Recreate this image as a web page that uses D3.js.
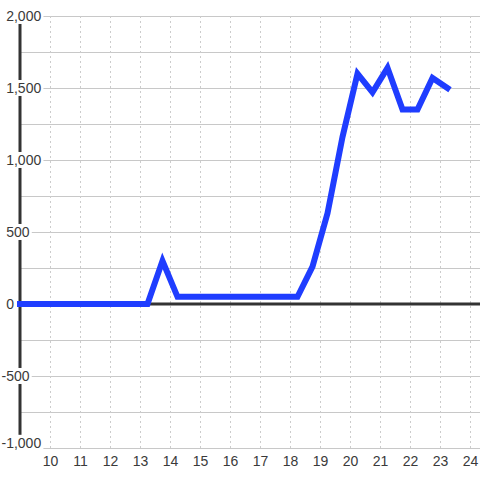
<!DOCTYPE html>
<meta charset="utf-8">
<style>
body { margin: 0; background: #fff; }
.grid-y line { stroke: #c8c8c8; stroke-width: 1px; }
.grid-x line { stroke: #cccccc; stroke-width: 1px; stroke-dasharray: 2,3; }
.grid-y path, .grid-x path, .axis-x path, .axis-x line, .axis-y path, .axis-y line { display: none; }
</style>
<body>
<script src="https://d3js.org/d3.v7.min.js"></script>
<script>
// half-hourly readings (hour of day, value)
var hours = [8.75, 9.25, 9.75, 10.25, 10.75, 11.25, 11.75, 12.25, 12.75, 13.25,
             13.75, 14.25, 14.75, 15.25, 15.75, 16.25, 16.75, 17.25, 17.75, 18.25,
             18.75, 19.25, 19.75, 20.25, 20.75, 21.25, 21.75, 22.25, 22.75, 23.25];
var values = [0, 0, 0, 0, 0, 0, 0, 0, 0, 0,
              300, 50, 50, 50, 50, 50, 50, 50, 50, 50,
              260, 630, 1160, 1600, 1470, 1640, 1350, 1350, 1570, 1500];

var xTicks = [10, 11, 12, 13, 14, 15, 16, 17, 18, 19, 20, 21, 22, 23, 24];
var yTicks = [-1000, -500, 0, 500, 1000, 1500, 2000];
var yGrid = [-1000, -750, -500, -250, 0, 250, 500, 750, 1000, 1250, 1500, 1750, 2000];

var W = 480, H = 480;
var pLeft = 20, pRight = 480, pTop = 16, pBottom = 448;

var svg = d3.select("body").append("svg")
    .attr("width", W).attr("height", H)
    .style("display", "block");

var x = d3.scaleLinear().domain([9, 9 + (pRight - pLeft) / 30]).range([pLeft, pRight]);
var y = d3.scaleLinear().domain([-1000, 2000]).range([pBottom, pTop]);

var fmt = d3.formatLocale({decimal: ".", thousands: ",", grouping: [3], currency: ["", ""], minus: "-"}).format(",");

// horizontal grid
svg.append("g")
    .attr("class", "grid-y")
    .attr("transform", "translate(" + pLeft + ",0)")
    .call(d3.axisRight(y).tickValues(yGrid).tickSize(pRight - pLeft).tickFormat(""));

// vertical dashed grid
svg.append("g")
    .attr("class", "grid-x")
    .attr("transform", "translate(0," + pBottom + ")")
    .call(d3.axisTop(x).tickValues(xTicks).tickSize(pBottom - pTop).tickFormat(""));

// zero line and y axis line
svg.append("line")
    .attr("x1", pLeft).attr("x2", pRight)
    .attr("y1", y(0)).attr("y2", y(0))
    .attr("stroke", "#333").attr("stroke-width", 3);
svg.append("line")
    .attr("x1", pLeft).attr("x2", pLeft)
    .attr("y1", pTop).attr("y2", pBottom)
    .attr("stroke", "#333").attr("stroke-width", 3);

// x labels
var xa = svg.append("g")
    .attr("class", "axis-x")
    .attr("transform", "translate(0," + pBottom + ")")
    .call(d3.axisBottom(x).tickValues(xTicks).tickSize(0).tickPadding(0).tickFormat(d3.format("d")));
xa.attr("font-size", 14).attr("font-family", "'Liberation Sans', Arial, sans-serif");
xa.selectAll("text")
    .attr("fill", "#3a3a3a")
    .attr("dy", null)
    .attr("y", 18);

// y labels, drawn inside the plot with a white box behind
var ya = svg.append("g")
    .attr("class", "axis-y")
    .call(d3.axisLeft(y).tickValues(yTicks).tickSize(0).tickFormat(fmt));
ya.attr("font-size", 14).attr("font-family", "'Liberation Sans', Arial, sans-serif");

ya.selectAll(".tick text")
    .attr("fill", "#3a3a3a")
    .attr("text-anchor", "start")
    .attr("x", d => d < 0 ? 1.5 : 6.2)
    .attr("dy", d => d === -1000 ? "-0.05em" : "0.32em");

ya.selectAll(".tick").each(function() {
  var t = d3.select(this).select("text");
  var b = t.node().getBBox();
  d3.select(this).insert("rect", "text")
      .attr("x", b.x - 1).attr("y", b.y)
      .attr("width", b.width + 3).attr("height", b.height)
      .attr("fill", "#fff");
});

// data line
svg.append("clipPath").attr("id", "clip")
  .append("rect").attr("x", 17).attr("y", 0).attr("width", pRight - 17).attr("height", H);

var line = d3.line()
    .x((d, i) => x(hours[i]))
    .y(d => y(d));

svg.append("path")
    .datum(values)
    .attr("clip-path", "url(#clip)")
    .attr("fill", "none")
    .attr("stroke", "#1f3dff")
    .attr("stroke-width", 6)
    .attr("stroke-linejoin", "miter")
    .attr("stroke-linecap", "square")
    .attr("d", line);
</script>
